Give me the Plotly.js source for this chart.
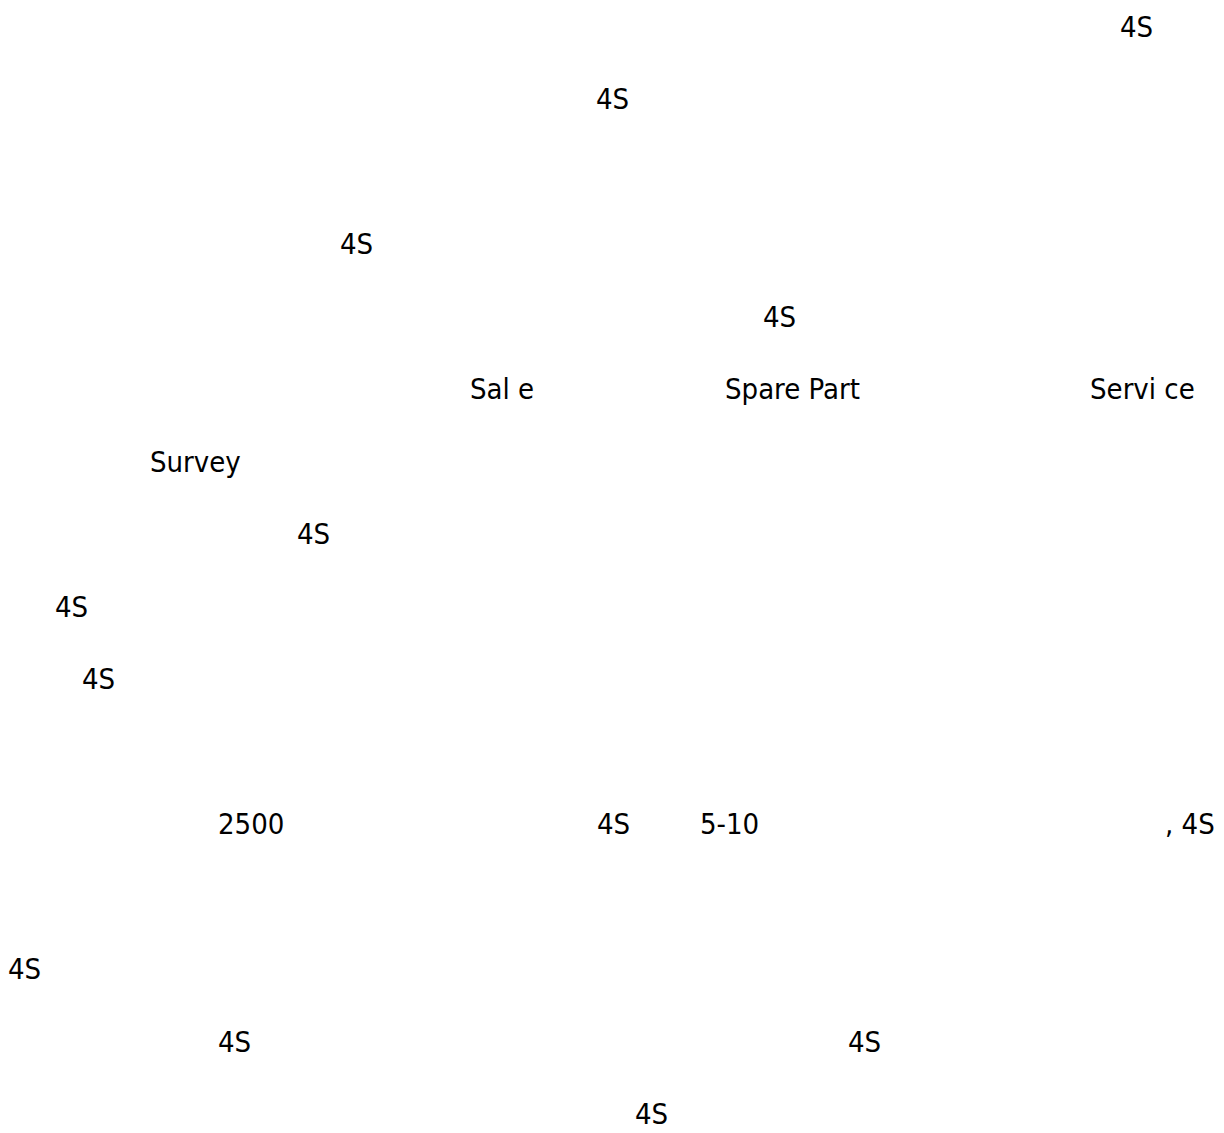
<!DOCTYPE html>
<html>
<head>
<meta charset="utf-8">
<script src="https://cdn.plot.ly/plotly-3.0.1.min.js"></script>
<style>html,body{margin:0;padding:0;background:#fff;}#chart{width:1224px;height:1133px;}</style>
</head>
<body>
<div id="chart"></div>
<script>
// Text fragments that are visible on the page (CJK glyphs are missing in the original)
const labels = ["4S", "4S", "4S", "4S", "Sal e", "Spare Part", "Servi ce", "Survey", "4S", "4S", "4S", "2500", "4S", "5-10", ", 4S", "4S", "4S", "4S", "4S"];
// Line number of each fragment in the document
const lineNo = [0, 1, 3, 4, 5, 5, 5, 6, 7, 8, 9, 11, 11, 11, 11, 13, 14, 14, 15];
// Horizontal start of each fragment along the line
const startAt = [1120, 596, 340, 763, 470, 725, 1090, 150, 297, 55, 82, 218, 597, 700, 1165, 8, 218, 848, 635];

const trace = {
  type: "scatter",
  mode: "text",
  x: startAt,
  y: lineNo,
  text: labels,
  textposition: "middle right",
  cliponaxis: false,
  textfont: {family: "DejaVu Sans Condensed, Liberation Sans Narrow, sans-serif", size: 29, color: "#000"},
  hoverinfo: "skip",
  showlegend: false
};

const layout = {
  width: 1224,
  height: 1133,
  margin: {l: 0, r: 0, t: 0, b: 0, pad: 0},
  paper_bgcolor: "#ffffff",
  plot_bgcolor: "#ffffff",
  xaxis: {range: [0, 1224], visible: false, fixedrange: true},
  yaxis: {range: [15.221, -0.4069], visible: false, fixedrange: true},
  showlegend: false
};

Plotly.newPlot("chart", [trace], layout, {displayModeBar: false, staticPlot: true});
</script>
</body>
</html>
